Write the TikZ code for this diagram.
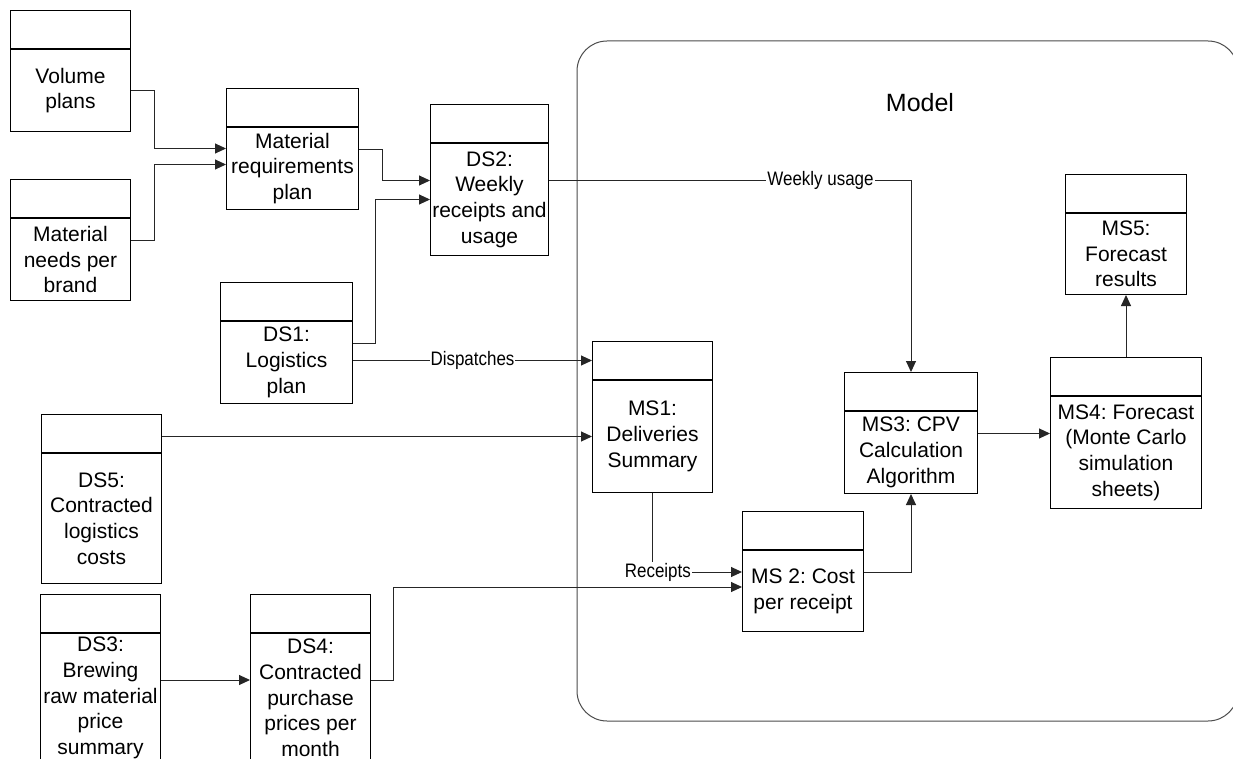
\documentclass[tikz,border=0pt]{standalone}
\usepackage{fontspec}
\setmainfont{Liberation Sans}
\newfontfamily\narrowfont[FakeStretch=0.87]{Liberation Sans}
\usetikzlibrary{arrows.meta,calc}
\frenchspacing
\tikzset{
  hdr/.style={draw=black, fill=white, line width=1pt, inner sep=0pt, minimum height=38pt},
  bdy/.style={draw=black, fill=white, line width=1pt, inner sep=0pt, align=center,
              font=\frenchspacing\fontsize{21pt}{25.7pt}\selectfont},
  conn/.style={draw=black!85, line width=1pt, -{Triangle[length=11pt,width=10pt]}},
  lbl/.style={fill=white, inner xsep=1pt, inner ysep=1pt, font=\narrowfont\fontsize{19.5pt}{22pt}\selectfont},
  container/.style={draw=black!70, line width=1pt, rounded corners=30pt}
}
\newcommand{\mybox}[6]{%
  \node[hdr, minimum width=#4pt, anchor=north west] (#1h) at (#2,#3) {};
  \node[bdy, minimum width=#4pt, minimum height=#5pt, anchor=north] (#1) at (#1h.south) {#6};
}
\begin{document}
\begin{tikzpicture}[x=1pt,y=-1pt]
\useasboundingbox (0,0) rectangle (1233,759);
\clip (0,0) rectangle (1233,759);
\fill[white] (0,0) rectangle (1233,759);
% container
\draw[container] (577,41) rectangle (1238,721);
\node[font=\fontsize{25pt}{30pt}\selectfont] (model) at (920,103) {Model};
% boxes
\mybox{vp}{10}{10}{120}{82}{Volume\\plans}
\mybox{mn}{10}{179}{120}{82}{Material\\needs per\\brand}
\mybox{mrp}{226}{88}{132}{82}{Material\\requirements\\plan}
\mybox{dsone}{220}{282}{132}{82}{DS1:\\Logistics\\plan}
\mybox{dstwo}{430}{104}{118}{112}{DS2:\\Weekly\\receipts and\\usage}
\mybox{dsfive}{41}{414}{120}{130}{DS5:\\Contracted\\logistics\\costs}
\mybox{dsthree}{40}{594}{120}{129}{DS3:\\Brewing\\raw material\\price\\summary}
\mybox{dsfour}{250}{594}{120}{129}{DS4:\\Contracted\\purchase\\prices per\\month}
\mybox{msone}{592}{341}{120}{112}{MS1:\\Deliveries\\Summary}
\mybox{mstwo}{742}{511}{121}{81}{MS 2: Cost\\per receipt}
\mybox{msthree}{844}{372}{133}{82}{MS3: CPV\\Calculation\\Algorithm}
\mybox{msfour}{1050}{357}{151}{112}{MS4: Forecast\\(Monte Carlo\\simulation\\sheets)}
\mybox{msfive}{1065}{174}{121}{81}{MS5:\\Forecast\\results}
% connectors
\draw[conn] (vp.east) -- ++(23,0) |- ($(mrp.west)+(0,-20)$);
\draw[conn] ($(mn.east)+(0,-19)$) -- ++(23,0) |- ($(mrp.west)+(0,-4)$);
\draw[conn] ($(mrp.east)+(0,-19)$) -- ++(23,0) |- ($(dstwo.west)+(0,-19)$);
\draw[conn] ($(dsone.east)+(0,-19)$) -- ++(22,0) |- (dstwo.west);
\draw[conn] (msoneh.west -| dsone.east) -- node[lbl]{Dispatches} (msoneh.west);
\draw[conn] (msone.west -| dsfiveh.east) -- (msone.west);
\draw[conn] ($(dstwo.east)+(0,-19)$) -| node[lbl,pos=0.375]{Weekly usage} (msthreeh.north);
\draw[conn] (msone.south) |- node[lbl,pos=0.53]{Receipts} ($(mstwo.west)+(0,-19)$);
\draw[conn] ($(dsfour.east)+(0,-18)$) -- ++(22,0) |- ($(mstwo.west)+(0,-4)$);
\draw[conn] ($(dsthree.east)+(0,-18)$) -- ($(dsfour.west)+(0,-18)$);
\draw[conn] ($(mstwo.east)+(0,-19)$) -| (msthree.south);
\draw[conn] ($(msthree.east)+(0,-19)$) -- ($(msfour.west)+(0,-19)$);
\draw[conn] (msfourh.north) -- (msfive.south);
\end{tikzpicture}
\end{document}
